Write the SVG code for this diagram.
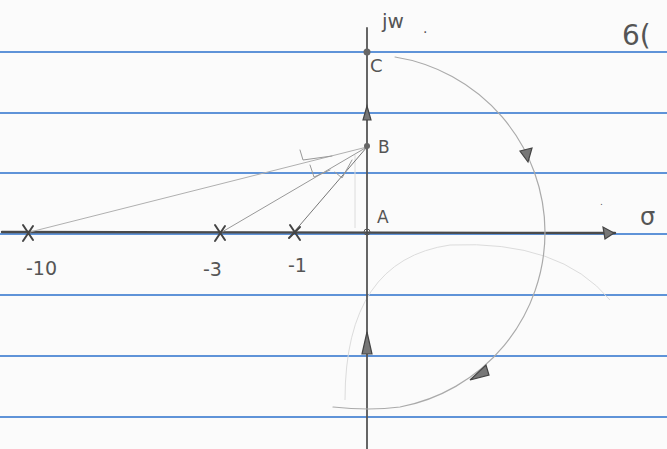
<svg xmlns="http://www.w3.org/2000/svg" width="667" height="449" viewBox="0 0 667 449">
<style>
.rule{stroke:#5f93d8;stroke-width:2.2;}
.pen{fill:none;stroke-linecap:round;}
.faint{stroke:#dcdcdc;fill:none;stroke-width:1;}
.hand{font-family:"DejaVu Sans",sans-serif;fill:#555;}
.tri{fill:#777;stroke:#444;stroke-width:1.2;}
</style>
<rect width="667" height="449" fill="#fbfbfb"/>
<g id="ruled-lines">
<line class="rule" x1="0" y1="52" x2="667" y2="52"/>
<line class="rule" x1="0" y1="113" x2="667" y2="113"/>
<line class="rule" x1="0" y1="173" x2="667" y2="173"/>
<line class="rule" x1="0" y1="234" x2="667" y2="234"/>
<line class="rule" x1="0" y1="295" x2="667" y2="295"/>
<line class="rule" x1="0" y1="356" x2="667" y2="356"/>
<line class="rule" x1="0" y1="417" x2="667" y2="417"/>
</g>
<g id="faint-marks">
<path class="faint" d="M345 400 Q345 260 450 245 Q560 240 610 300"/>
<path class="faint" d="M355 228 L355 155"/>
</g>
<g id="connectors">
<line class="pen" x1="367" y1="28" x2="367" y2="449" style="stroke:#555;stroke-width:1.8"/>
<line class="pen" x1="2" y1="232" x2="615" y2="233" style="stroke:#4a4a4a;stroke-width:2.4"/>
<path class="pen" d="M395 57 A178 178 0 0 1 545 232 A178 178 0 0 1 400 407 Q370 411 333 407" style="stroke:#aaa;stroke-width:1.2"/>
<line class="pen" x1="367" y1="147" x2="30" y2="232" style="stroke:#b0b0b0;stroke-width:1"/>
<line class="pen" x1="367" y1="147" x2="222" y2="232" style="stroke:#999;stroke-width:1"/>
<line class="pen" x1="367" y1="147" x2="294" y2="232" style="stroke:#777;stroke-width:1"/>
<path class="pen" d="M300 150 L303 160 L332 156" style="stroke:#999;stroke-width:1"/>
<path class="pen" d="M310 165 L314 177 L330 170" style="stroke:#999;stroke-width:1"/>
<path class="pen" d="M335 172 L342 178 L352 160" style="stroke:#999;stroke-width:1"/>
<path class="tri" d="M367 106 L363 120 L371 120 Z"/>
<path class="tri" d="M367 332 L362 354 L372 354 Z"/>
<path class="tri" d="M520 151 L532 148 L528 162 Z"/>
<path class="tri" d="M470 380 L486 365 L489 375 Z"/>
<path class="tri" d="M614 233 L603 227 L605 239 Z"/>
<circle cx="367" cy="52" r="3.5" fill="#666"/>
<circle cx="367" cy="146" r="3" fill="#666"/>
<circle cx="367" cy="232" r="3" fill="none" stroke="#555"/>
</g>
<g id="poles">
<path class="pen" style="stroke:#444;stroke-width:2" d="M23 225 L33 240 M33 226 L23 241"/>
<path class="pen" style="stroke:#444;stroke-width:2" d="M215 225 L225 240 M225 226 L215 241"/>
<path class="pen" style="stroke:#444;stroke-width:2" d="M290 225 L300 240 M300 227 L289 238"/>
</g>
<g id="labels">
<text class="hand" x="382" y="28" font-size="20">jw</text>
<text class="hand" x="423" y="33" font-size="14">.</text>
<text class="hand" x="370" y="72" font-size="18">C</text>
<text class="hand" x="378" y="153" font-size="17">B</text>
<text class="hand" x="377" y="223" font-size="17">A</text>
<text class="hand" x="640" y="225" font-size="24">σ</text>
<text class="hand" x="622" y="45" font-size="28">6(</text>
<text class="hand" x="26" y="275" font-size="19">-10</text>
<text class="hand" x="203" y="276" font-size="19">-3</text>
<text class="hand" x="288" y="272" font-size="19">-1</text>
<text class="hand" x="600" y="205" font-size="9">.</text>
</g>
</svg>
